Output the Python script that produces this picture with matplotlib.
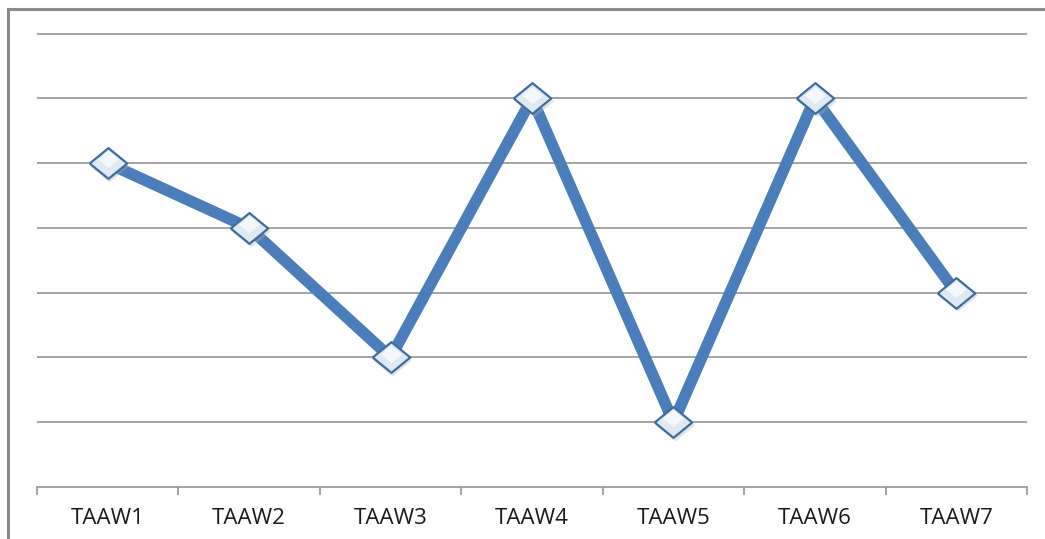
import numpy as np
import matplotlib
matplotlib.use("Agg")
import matplotlib.pyplot as plt
from matplotlib.patches import Rectangle

# === Data ===
categories = ["TAAW1", "TAAW2", "TAAW3", "TAAW4", "TAAW5", "TAAW6", "TAAW7"]
values = [5, 4, 2, 6, 1, 6, 3]

line_color = "#4a7ebb"
grid_color = "#8c8c8c"

fig = plt.figure(figsize=(10.45, 5.39), dpi=100)
fig.patch.set_facecolor("white")

# outer chart frame (only left and top edges fall inside the image)
frame = Rectangle((8 / 1045, -0.1), 1.2, 1 - 9 / 539 + 0.1, transform=fig.transFigure,
                  fill=False, edgecolor="#8a8a8a", linewidth=2.2, zorder=0)
fig.patches.append(frame)

ax = fig.add_axes([37 / 1045, 1 - 487 / 539, 990 / 1045, 454 / 539])
x = np.arange(len(categories))

ax.plot(x, values, color=line_color, linewidth=8.3, solid_joinstyle="miter", zorder=3)

# diamond markers, wider than tall
diamond = [(-1, 0), (0, 0.82), (1, 0), (0, -0.82), (-1, 0)]
ax.plot(x + 0.012, np.array(values) - 0.04, linestyle="None", marker=diamond, markersize=28,
        markerfacecolor="#b0b0b0", markeredgecolor="none", alpha=0.35, zorder=4)
ax.plot(x, values, linestyle="None", marker=diamond, markersize=27,
        markerfacecolor="#dfe9f4", markeredgecolor="#3d6d9e", markeredgewidth=1.6, zorder=5)
ax.plot(x, np.array(values) + 0.06, linestyle="None", marker=diamond, markersize=15,
        markerfacecolor="#f4f8fc", markeredgecolor="none", zorder=6)

ax.set_xlim(-0.5, len(categories) - 0.5)
ax.set_ylim(0, 7.01)
ax.set_yticks(np.arange(1, 8))
ax.yaxis.grid(True, color=grid_color, linewidth=1.1)
ax.set_yticklabels([])
ax.tick_params(axis="y", length=0)

ax.set_xticks(x)
ax.set_xticklabels(categories, fontsize=16, family="Open Sans", color="#1a1a1a")
ax.set_xticks(np.arange(-0.5, len(categories)), minor=True)
ax.tick_params(axis="x", which="major", length=0, pad=15)
ax.tick_params(axis="x", which="minor", length=6, color=grid_color, width=1.1)

for side in ["top", "right", "left"]:
    ax.spines[side].set_visible(False)
ax.spines["bottom"].set_color(grid_color)
ax.spines["bottom"].set_linewidth(1.1)
ax.set_axisbelow(True)

fig.savefig("out.png", dpi=100)
